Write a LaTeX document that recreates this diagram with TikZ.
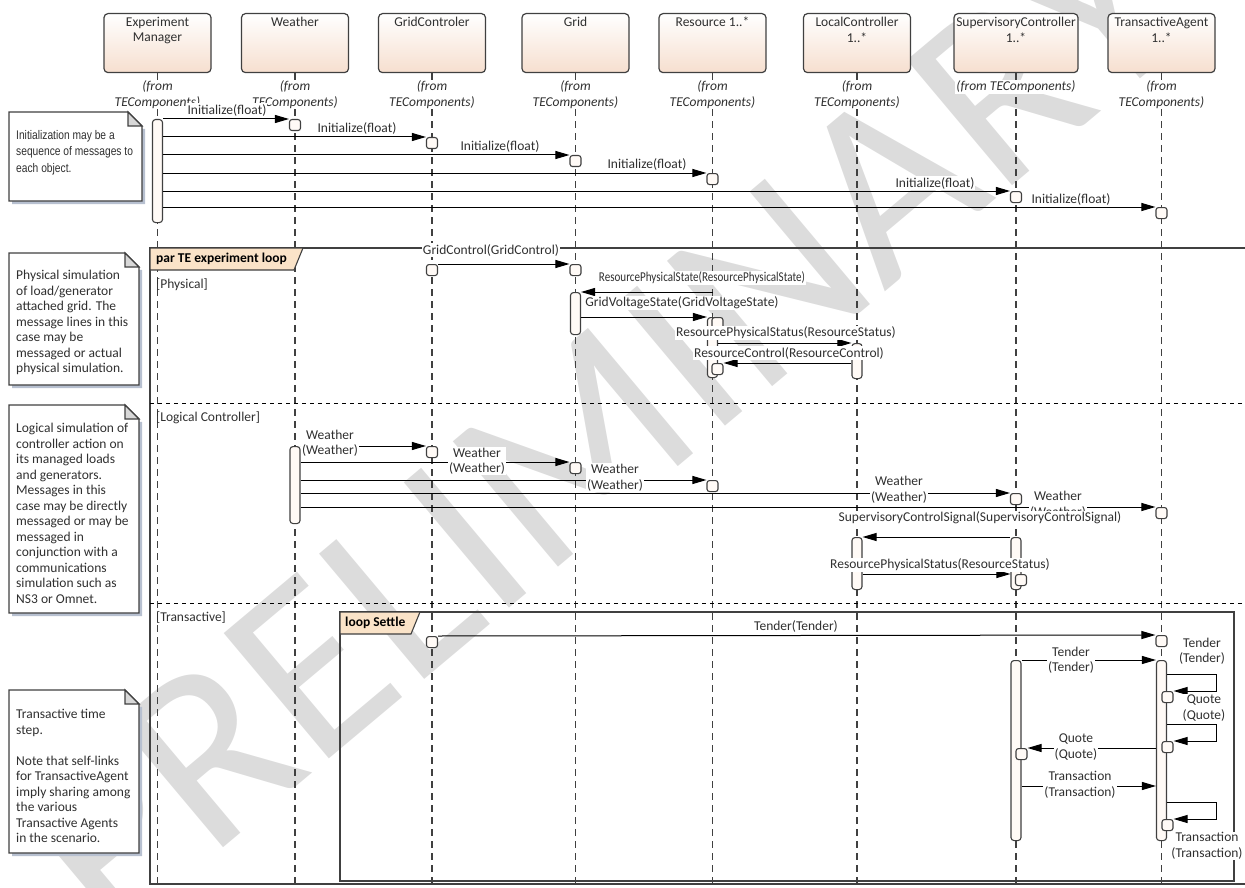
\documentclass[tikz,border=0pt]{standalone}
\usepackage{fontspec}
\setmainfont{Carlito}
\newfontfamily\narrowfont[FakeStretch=0.82]{Liberation Sans}
\usetikzlibrary{arrows.meta,calc}

\definecolor{edgegray}{HTML}{404040}
\definecolor{headpeach}{HTML}{F6DFCF}
\definecolor{tagpeach}{HTML}{FAE3C8}
\definecolor{barcream}{HTML}{FFFAF6}
\definecolor{noteshade}{HTML}{B7C0D0}
\definecolor{earfill}{HTML}{D8D8D8}
\definecolor{wmgray}{HTML}{DCDCDC}
\definecolor{captext}{HTML}{303030}

\tikzset{
  every node/.style={font=\fontsize{13.5}{15.5}\selectfont, text=captext},
  headbox/.style={draw=edgegray, line width=1.2pt, rounded corners=4pt, top color=white,
    bottom color=headpeach, minimum height=59pt, minimum width=107pt, anchor=north},
  headtxt/.style={anchor=north, yshift=-3pt, inner sep=1pt, align=center},
  fromtxt/.style={fill=white, inner sep=1pt, align=center, font=\fontsize{13.5}{15.5}\selectfont\itshape},
  lifeline/.style={draw=edgegray, line width=1.2pt, dash pattern=on 7pt off 5pt},
  actbar/.style={draw=edgegray, line width=1.1pt, fill=barcream, rounded corners=3pt,
    minimum width=10pt, inner sep=0pt, anchor=north},
  occbox/.style={draw=edgegray, line width=1.1pt, fill=barcream, rounded corners=2.5pt,
    minimum size=11pt, inner sep=0pt, anchor=north},
  msg/.style={draw=black, line width=1pt, -{Triangle[length=14pt,width=8pt]}},
  msglbl/.style={fill=white, inner sep=1pt, align=center},
  frameline/.style={draw=edgegray, line width=1.3pt},
  sepline/.style={draw=black, line width=1pt, dash pattern=on 4pt off 4pt},
  tagbox/.style={draw=edgegray, line width=1.1pt, fill=tagpeach},
  tagtxt/.style={anchor=west, inner sep=0pt, font=\fontsize{13.5}{15.5}\selectfont\bfseries, text=black},
  guard/.style={anchor=west, inner sep=0pt},
  notetxt/.style={anchor=north west, inner sep=0pt, align=left},
  watermark/.style={text=wmgray, inner sep=0pt, font=\fontsize{255}{255}\selectfont}
}

% note sheet with folded corner: (x1,y1)(x2,y2)
\def\notepaper(#1,#2)(#3,#4){
  \fill[noteshade] (#1+3,#2+3) -- (#3+3,#2+17) -- (#3+3,#4+3) -- (#1+3,#4+3) -- cycle;
  \draw[edgegray, line width=1.1pt, fill=white] (#1,#2) -- (#3-14,#2) -- (#3,#2+14) -- (#3,#4) -- (#1,#4) -- cycle;
  \draw[edgegray, line width=1.1pt, fill=earfill] (#3-14,#2) -- (#3-14,#2+14) -- (#3,#2+14) -- cycle;
}

\begin{document}
\begin{tikzpicture}[x=1pt,y=-1pt]
  \useasboundingbox (0,0) rectangle (1245,888);
  \coordinate (bot) at (0,888);

  %%%%% WATERMARK %%%%%
  \node[watermark, rotate=40] (wm) at (600,425) {PRELIMINARY};

  %%%%% LIFELINES %%%%%
  \node[headbox] (hEM) at (157.5,13) {};
  \node[headbox] (hW) at (295,13) {};
  \node[headbox] (hGC) at (432,13) {};
  \node[headbox] (hG) at (575.5,13) {};
  \node[headbox] (hR) at (712.5,13) {};
  \node[headbox] (hLC) at (857,13) {};
  \node[headbox, minimum width=124pt] (hSC) at (1016,13) {};
  \node[headbox] (hTA) at (1161.5,13) {};

  \node[headtxt] (hEMt) at (hEM.north) {Experiment\\Manager};
  \node[headtxt] (hWt) at (hW.north) {Weather};
  \node[headtxt] (hGCt) at (hGC.north) {GridControler};
  \node[headtxt] (hGt) at (hG.north) {Grid};
  \node[headtxt] (hRt) at (hR.north) {Resource 1..*};
  \node[headtxt] (hLCt) at (hLC.north) {LocalController\\1..*};
  \node[headtxt] (hSCt) at (hSC.north) {SupervisoryController\\1..*};
  \node[headtxt] (hTAt) at (hTA.north) {TransactiveAgent\\1..*};

  \foreach \h in {hEM,hW,hGC,hG,hR,hLC,hSC,hTA}
    \draw[lifeline] (\h.south) -- (\h.south |- bot);

  \node[fromtxt] (fEM) at (157.5,94.5) {(from\\TEComponents)};
  \node[fromtxt] (fW) at (295,94.5) {(from\\TEComponents)};
  \node[fromtxt] (fGC) at (432,94.5) {(from\\TEComponents)};
  \node[fromtxt] (fG) at (575.5,94.5) {(from\\TEComponents)};
  \node[fromtxt] (fR) at (712.5,94.5) {(from\\TEComponents)};
  \node[fromtxt] (fLC) at (857,94.5) {(from\\TEComponents)};
  \node[fromtxt] (fSC) at (1016,87) {(from TEComponents)};
  \node[fromtxt] (fTA) at (1161.5,94.5) {(from\\TEComponents)};

  %%%%% NOTES %%%%%
  \notepaper(9,112)(142,201)
  \node[notetxt, font=\fontsize{12.5}{16.5}\narrowfont] (n1t) at (16,130)
    {Initialization may be a\\sequence of messages to\\each object.};
  \notepaper(9,253)(139,385)
  \node[notetxt] (n2t) at (16,270)
    {Physical simulation\\of load/generator\\attached grid. The\\message lines in this\\case may be\\messaged or actual\\physical simulation.};
  \notepaper(9,405)(139,613)
  \node[notetxt] (n3t) at (16,423)
    {Logical simulation of\\controller action on\\its managed loads\\and generators.\\Messages in this\\case may be directly\\messaged or may be\\messaged in\\conjunction with a\\communications\\simulation such as\\NS3 or Omnet.};
  \notepaper(9,690)(139,853)
  \node[notetxt] (n4t) at (16,709)
    {Transactive time\\step.\\[15.5pt]Note that self-links\\for TransactiveAgent\\imply sharing among\\the various\\Transactive Agents\\in the scenario.};

  %%%%% INITIALIZATION %%%%%
  \node[actbar, minimum height=103pt] (aEM) at (hEM |- 0,119) {};
  \node[occbox] (oW1) at (hW |- 0,119) {};
  \node[occbox] (oGC1) at (hGC |- 0,137) {};
  \node[occbox] (oG1) at (hG |- 0,155) {};
  \node[occbox] (oR1) at (hR |- 0,173) {};
  \node[occbox] (oSC1) at (hSC |- 0,191) {};
  \node[occbox] (oTA1) at (hTA |- 0,207) {};
  \foreach \o in {oW1,oGC1,oG1,oR1,oSC1,oTA1}
    \draw[msg] (aEM.east |- \o.north) -- (\o.north west);
  \node[msglbl] (lI1) at (227,110) {Initialize(float)};
  \node[msglbl] (lI2) at (357,128) {Initialize(float)};
  \node[msglbl] (lI3) at (500,146) {Initialize(float)};
  \node[msglbl] (lI4) at (647,164) {Initialize(float)};
  \node[msglbl] (lI5) at (935,183) {Initialize(float)};
  \node[msglbl] (lI6) at (1071,199) {Initialize(float)};

  %%%%% PAR FRAGMENT %%%%%
  \draw[frameline] (1246,248) -- (150,248) -- (150,884) -- (1246,884);
  \draw[tagbox] (150,248) -- (303,248) -- (294,270) -- (150,270) -- cycle;
  \node[tagtxt] (tPar) at (156,259) {par TE experiment loop};
  \draw[sepline] (150,403) -- (1246,403);
  \draw[sepline] (150,603) -- (1246,603);
  \node[guard] (gPhys) at (156,285) {[Physical]};
  \node[guard] (gLog) at (156,418) {[Logical Controller]};
  \node[guard] (gTr) at (156,618) {[Transactive]};

  %%%%% PHYSICAL %%%%%
  \node[occbox] (oGC2) at (hGC |- 0,264) {};
  \node[occbox] (oG2) at (hG |- 0,264) {};
  \draw[msg] (oGC2.north east) -- (oG2.north west);
  \node[msglbl] (lGC) at (491,250) {GridControl(GridControl)};

  \node[actbar, minimum height=42pt] (aG) at (hG |- 0,292) {};
  \draw[msg] (hR |- aG.north) -- (aG.north east);
  \node[msglbl] (lRPS) at (702,278) {\scalebox{0.82}[1]{ResourcePhysicalState(ResourcePhysicalState)}};

  \node[actbar, minimum height=60pt] (aR) at (hR |- 0,317) {};
  \node[occbox, xshift=5pt] (oR2) at (hR |- 0,317) {};
  \draw[msg] (aG.east |- aR.north) -- (aR.north west);
  \node[msglbl] (lGV) at (682,303) {GridVoltageState(GridVoltageState)};

  \node[actbar, minimum height=35pt] (aLC) at (hLC |- 0,343) {};
  \draw[msg] (aR.east |- aLC.north) -- (aLC.north west);
  \node[msglbl] (lRSt) at (786,333) {ResourcePhysicalStatus(ResourceStatus)};

  \node[occbox, xshift=5pt] (oR3) at (hR |- 0,363) {};
  \draw[msg] (aLC.west |- oR3.north) -- (oR3.north east);
  \node[msglbl] (lRC) at (789,353) {ResourceControl(ResourceControl)};

  %%%%% LOGICAL CONTROLLER %%%%%
  \node[actbar, minimum height=77pt] (aW) at (hW |- 0,446) {};
  \node[occbox] (oGC3) at (hGC |- 0,446) {};
  \node[occbox] (oG3) at (hG |- 0,462) {};
  \node[occbox] (oR4) at (hR |- 0,480) {};
  \node[occbox] (oSC2) at (hSC |- 0,493) {};
  \node[occbox] (oTA2) at (hTA |- 0,507) {};
  \foreach \o in {oGC3,oG3,oR4,oSC2,oTA2}
    \draw[msg] (aW.east |- \o.north) -- (\o.north west);
  \node[msglbl] (lW1) at (330,443) {Weather\\(Weather)};
  \node[msglbl] (lW2) at (477,461) {Weather\\(Weather)};
  \node[msglbl] (lW3) at (615,477.5) {Weather\\(Weather)};
  \node[msglbl] (lW4) at (899,489.5) {Weather\\(Weather)};
  \node[msglbl] (lW5) at (1058,504.5) {Weather\\(Weather)};

  \node[msglbl] (lSCS) at (980,518) {SupervisoryControlSignal(SupervisoryControlSignal)};
  \node[actbar, minimum height=52pt] (aLC2) at (hLC |- 0,537) {};
  \node[actbar, minimum height=52pt] (aSC) at (hSC |- 0,537) {};
  \draw[msg] (aSC.west |- aLC2.north) -- (aLC2.north east);

  \node[occbox, xshift=5pt] (oSC3) at (hSC |- 0,574) {};
  \draw[msg] (aLC2.east |- oSC3.north) -- (aSC.west |- oSC3.north);
  \node[msglbl] (lRSt2) at (940,565) {ResourcePhysicalStatus(ResourceStatus)};

  %%%%% TRANSACTIVE %%%%%
  \draw[frameline] (340,612) rectangle (1234,881);
  \draw[tagbox] (340,612) -- (420,612) -- (411,634) -- (340,634) -- cycle;
  \node[tagtxt] (tLoop) at (345,623) {loop Settle};

  \node[occbox] (oGC4) at (hGC |- 0,636) {};
  \node[occbox] (oTA3) at (hTA |- 0,635) {};
  \draw[msg] (oGC4.north east) -- (oTA3.north west);
  \node[msglbl] (lT1) at (796,626) {Tender(Tender)};

  \node[actbar, minimum height=180pt] (aSC2) at (hSC |- 0,660) {};
  \node[actbar, minimum height=180pt] (aTA) at (hTA |- 0,660) {};
  \draw[msg] (aSC2.north east) -- (aTA.north west);
  \node[msglbl] (lT2) at (1071,660) {Tender\\(Tender)};

  % self links
  \coordinate (sl1) at (1216,674);
  \coordinate (sl2) at (1216,724);
  \coordinate (sl3) at (1216,802);
  \node[occbox, xshift=6pt] (oTA4) at (hTA |- 0,691) {};
  \node[occbox, xshift=6pt] (oTA5) at (hTA |- 0,741) {};
  \node[occbox, xshift=6pt] (oTA6) at (hTA |- 0,819) {};
  \draw[msg] (aTA.east |- sl1) -- (sl1) |- (oTA4.north east);
  \draw[msg] (aTA.east |- sl2) -- (sl2) |- (oTA5.north east);
  \draw[msg] (aTA.east |- sl3) -- (sl3) |- (oTA6.north east);
  \node[msglbl] (lT3) at (1202,651) {Tender\\(Tender)};
  \node[msglbl] (lQ1) at (1204,708) {Quote\\(Quote)};
  \node[msglbl] (lX2) at (1207,846) {Transaction\\(Transaction)};

  \node[occbox, xshift=5.5pt] (oSC4) at (hSC |- 0,748) {};
  \draw[msg] (aTA.west |- oSC4.north) -- (oSC4.north east);
  \node[msglbl] (lQ2) at (1076,747) {Quote\\(Quote)};

  \draw[msg] (aSC2.east |- 0,786) -- (aTA.west |- 0,786);
  \node[msglbl] (lX1) at (1080,785) {Transaction\\(Transaction)};
\end{tikzpicture}
\end{document}
